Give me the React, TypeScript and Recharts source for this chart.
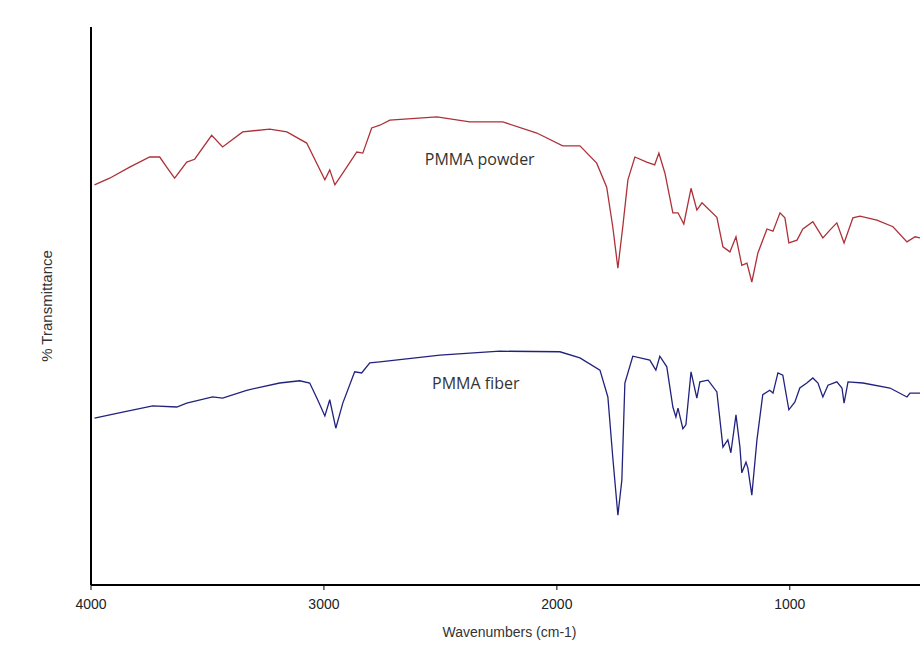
import { LineChart, Line, XAxis, YAxis, ReferenceDot } from 'recharts';

// PMMA powder spectrum (red)
const powderWavenumbers = [
  3985, 3920, 3834, 3748, 3705, 3675, 3641, 3589, 3555, 3482, 3435, 3349, 3233, 3159, 3074,
  2996, 2975, 2953, 2902, 2859, 2833, 2795, 2760, 2717, 2515, 2374, 2232, 2086, 1975, 1901,
  1829, 1786, 1760, 1738, 1717, 1695, 1665, 1614, 1580, 1562, 1536, 1502, 1480, 1455, 1424,
  1399, 1377, 1313, 1287, 1257, 1231, 1206, 1184, 1163, 1137, 1098, 1072, 1042, 1021, 1004,
  969, 944, 901, 858, 828, 798, 767, 729, 699, 626, 557, 497, 462, 441,
];
const powderTransmittance = [
  71.7, 72.9, 74.9, 76.7, 76.7, 74.9, 72.9, 75.8, 76.3, 80.6, 78.5, 81.2, 81.7, 81.2, 79.2,
  72.6, 74.4, 71.7, 74.9, 77.6, 77.4, 81.9, 82.4, 83.3, 83.9, 83.0, 83.0, 81.0, 78.7, 78.7,
  75.6, 71.3, 64.2, 56.8, 64.2, 72.6, 76.7, 75.8, 75.3, 77.4, 73.8, 66.7, 66.7, 64.7, 71.1,
  67.2, 68.5, 65.9, 60.6, 59.7, 62.4, 57.3, 57.7, 54.3, 59.5, 63.8, 63.4, 66.7, 65.8, 61.3,
  61.8, 63.8, 65.1, 62.2, 63.6, 64.9, 61.3, 65.8, 66.1, 65.4, 64.2, 61.5, 62.4, 62.2,
];

// PMMA fiber spectrum (blue)
const fiberWavenumbers = [
  3985, 3864, 3735, 3632, 3589, 3478, 3435, 3332, 3190, 3104, 3061, 3027, 2996, 2975, 2949,
  2919, 2868, 2838, 2803, 2760, 2502, 2245, 1987, 1901, 1815, 1781, 1760, 1738, 1721, 1708,
  1674, 1601, 1575, 1558, 1528, 1502, 1489, 1480, 1459, 1446, 1424, 1399, 1386, 1351, 1313,
  1287, 1266, 1253, 1231, 1214, 1206, 1188, 1180, 1163, 1141, 1116, 1086, 1072, 1051, 1030,
  1004, 978, 957, 927, 901, 879, 858, 836, 798, 776, 767, 750, 686, 570, 497, 484, 441,
];
const fiberTransmittance = [
  29.9, 31.0, 32.1, 31.9, 32.6, 33.7, 33.5, 34.9, 36.2, 36.6, 36.2, 33.2, 30.3, 33.2, 28.1,
  32.6, 38.2, 38.0, 39.8, 40.0, 41.2, 41.9, 41.8, 40.7, 38.5, 33.7, 22.9, 12.5, 18.8, 36.2,
  41.0, 40.3, 38.5, 41.0, 39.1, 31.9, 30.1, 31.7, 28.0, 28.7, 38.2, 33.5, 36.4, 36.7, 34.6,
  24.7, 26.0, 23.7, 30.5, 24.7, 20.1, 22.0, 21.0, 16.1, 26.0, 34.1, 34.9, 34.4, 38.0, 37.6,
  31.4, 32.8, 35.3, 36.2, 37.1, 36.2, 33.7, 35.8, 36.4, 35.3, 32.6, 36.4, 36.2, 35.3, 33.7, 34.4, 34.4,
];

const xTicks = [4000, 3000, 2000, 1000];

const powderData = powderWavenumbers.map((w, i) => ({ w, t: powderTransmittance[i] }));
const fiberData = fiberWavenumbers.map((w, i) => ({ w, t: fiberTransmittance[i] }));

const axisFont = { fontFamily: 'Liberation Sans, Arial, sans-serif', fontSize: 14, fill: '#222' };
const noteFont = { fontFamily: 'Open Sans, sans-serif', fontSize: 16, fill: '#333' };

export default function App() {
  return (
    <div style={{ position: 'absolute', left: 0, top: 0, width: 920, height: 646, background: '#fff' }}>
      <LineChart width={920} height={646} margin={{ top: 27, right: 0, bottom: 0, left: 0 }}>
        <XAxis
          type="number"
          dataKey="w"
          domain={[441, 4000]}
          reversed
          ticks={xTicks}
          allowDataOverflow
          height={61}
          tickSize={5}
          tickMargin={9}
          tick={axisFont}
          axisLine={{ stroke: '#000', strokeWidth: 2 }}
          tickLine={{ stroke: '#000' }}
          label={{
            value: 'Wavenumbers (cm-1)',
            position: 'insideBottom',
            offset: 9,
            dx: 4,
            style: { ...axisFont, fill: '#333' },
          }}
        />
        <YAxis
          type="number"
          dataKey="t"
          domain={[0, 100]}
          width={91}
          tick={false}
          tickLine={false}
          axisLine={{ stroke: '#000', strokeWidth: 2 }}
          label={{
            value: '% Transmittance',
            angle: -90,
            position: 'center',
            dx: 1,
            style: { ...axisFont, fontSize: 15, fill: '#333' },
          }}
        />
        <Line
          data={powderData}
          dataKey="t"
          type="linear"
          stroke="#ad3139"
          strokeWidth={1.3}
          dot={false}
          isAnimationActive={false}
        />
        <Line
          data={fiberData}
          dataKey="t"
          type="linear"
          stroke="#22227e"
          strokeWidth={1.3}
          dot={false}
          isAnimationActive={false}
        />
        <ReferenceDot
          x={2331}
          y={76.3}
          r={0}
          label={{ value: 'PMMA powder', position: 'center', style: noteFont }}
        />
        <ReferenceDot
          x={2348}
          y={36.2}
          r={0}
          label={{ value: 'PMMA fiber', position: 'center', style: noteFont }}
        />
      </LineChart>
    </div>
  );
}
